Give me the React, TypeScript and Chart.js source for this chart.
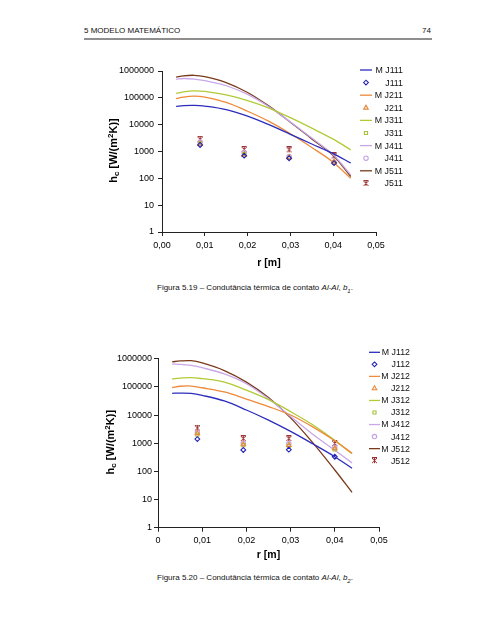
import React, { useEffect, useRef } from 'react';
import { Chart, registerables } from 'chart.js';
import { drawPoint } from 'chart.js/helpers';

Chart.register(...registerables);

const FONT = "'Liberation Sans', Arial, sans-serif";

// ---------- Figure 5.19 (b1) ----------
const R_MODEL_1 = [0.0033, 0.005, 0.0075, 0.01, 0.015, 0.02, 0.025, 0.03, 0.035, 0.04, 0.0441];
const M_J111 = [47900, 51300, 52500, 49000, 36300, 20900, 10000, 4370, 1900, 830, 372];
const M_J211 = [93300, 107000, 115000, 107000, 67600, 31600, 13200, 4570, 1410, 398, 100];
const M_J311 = [144500, 166000, 182000, 174000, 129000, 79400, 41700, 18200, 7400, 2880, 1150];
const M_J411 = [490000, 525000, 500000, 436000, 282000, 135000, 46800, 12600, 3160, 760, 135];
const M_J511 = [589000, 661000, 692000, 617000, 372000, 158000, 49000, 12300, 2950, 708, 117];

const R_EXP_1 = [0.0089, 0.0192, 0.0297, 0.0402];
const J111 = [1750, 700, 560, 370];
const J211 = [1900, 750, 600, 420];
const J311 = [2000, 800, 580, 380];
const J411 = [2200, 900, 650, 400];
const J511 = [2850, 1200, 1150, 680];

// ---------- Figure 5.20 (b2) ----------
const R_MODEL_2 = [0.0032, 0.005, 0.0075, 0.01, 0.015, 0.02, 0.025, 0.03, 0.035, 0.04, 0.0439];
const M_J112 = [58900, 60300, 58900, 50100, 31600, 15100, 6600, 2630, 955, 331, 129];
const M_J212 = [95000, 105000, 107000, 93000, 66000, 37000, 20000, 10000, 3800, 1230, 440];
const M_J312 = [190000, 204000, 214000, 195000, 148000, 76000, 35000, 13200, 4500, 1260, 420];
const M_J412 = [646000, 631000, 575000, 479000, 288000, 129000, 38000, 8900, 2090, 562, 200];
const M_J512 = [776000, 832000, 851000, 708000, 380000, 148000, 41700, 7940, 1050, 112, 18];

const R_EXP_2 = [0.0089, 0.0193, 0.0296, 0.040];
const J112 = [1400, 575, 590, 330];
const J212 = [2250, 900, 850, 650];
const J312 = [2000, 850, 800, 600];
const J412 = [2400, 1000, 950, 720];
const J512 = [3450, 1450, 1450, 980];

// ---------- axes ----------
const Y_TICKS = [1, 10, 100, 1000, 10000, 100000, 1000000];
const X_TICKS = [0, 0.01, 0.02, 0.03, 0.04, 0.05];
const X_LABELS_1 = ['0,00', '0,01', '0,02', '0,03', '0,04', '0,05'];
const X_LABELS_2 = ['0', '0,01', '0,02', '0,03', '0,04', '0,05'];

const COLORS = ['#2c2cbc', '#ee8a3c', '#b2ca36', '#c8a8e8', '#7a3a1c'];
const MARKER_COLORS = ['#2424b4', '#e8883a', '#a6c23c', '#c4a2e4', '#9c3030'];
const MARKER_SIZES = [2.4, 2.6, 2.2, 2.2, 0];

function makeStar(color: string): HTMLCanvasElement {
  const c = document.createElement('canvas');
  c.width = 7;
  c.height = 7;
  const g = c.getContext('2d')!;
  g.strokeStyle = color;
  g.lineWidth = 1;
  g.beginPath();
  g.moveTo(1, 1); g.lineTo(6, 6);
  g.moveTo(6, 1); g.lineTo(1, 6);
  g.moveTo(1, 0.5); g.lineTo(6, 0.5);
  g.moveTo(3.5, 1); g.lineTo(3.5, 6);
  g.stroke();
  return c;
}

function pts(xs: number[], ys: number[]) {
  return xs.map((x, i) => ({ x, y: ys[i] }));
}

type LegendOpts = { dy0: number; dy: number; l0: number; l1: number; tr: number; size: number };
type TitleOpts = { yx: number; yy: number; xy: number };

const pagePlugin = {
  id: 'pageDecor',
  afterDraw(chart: any, _args: any, opts: any) {
    const { ctx, chartArea } = chart;
    const lg: LegendOpts = opts.legend;
    const tt: TitleOpts = opts.titles;
    ctx.save();
    // legend
    chart.data.datasets.forEach((ds: any, i: number) => {
      const y = chartArea.top + lg.dy0 + i * lg.dy;
      const x0 = chartArea.right + lg.l0;
      const x1 = chartArea.right + lg.l1;
      if (ds.showLine) {
        ctx.strokeStyle = ds.borderColor;
        ctx.lineWidth = 1.3;
        ctx.beginPath();
        ctx.moveTo(x0, y);
        ctx.lineTo(x1, y);
        ctx.stroke();
      } else {
        ctx.strokeStyle = ds.pointBorderColor;
        ctx.fillStyle = 'rgba(0,0,0,0)';
        ctx.lineWidth = ds.pointBorderWidth;
        drawPoint(ctx, { pointStyle: ds.pointStyle, radius: ds.pointRadius, rotation: 0, borderWidth: ds.pointBorderWidth } as any, (x0 + x1) / 2, y);
      }
      ctx.fillStyle = '#111';
      ctx.font = `${lg.size}px ${FONT}`;
      ctx.textAlign = 'right';
      ctx.textBaseline = 'middle';
      ctx.fillText(ds.label, chartArea.right + lg.tr, y + 0.5);
    });
    // y title with sub/superscript
    const cx = chartArea.left + tt.yx;
    const cy = (chartArea.top + chartArea.bottom) / 2 + tt.yy;
    const big = `bold 11px ${FONT}`;
    const small = `bold 8px ${FONT}`;
    const parts = [
      { t: 'h', f: big, d: 0 },
      { t: 'c', f: small, d: 2 },
      { t: ' [W/(m', f: big, d: 0 },
      { t: '2', f: small, d: -4.5 },
      { t: 'K)]', f: big, d: 0 },
    ];
    let total = 0;
    parts.forEach((p) => { ctx.font = p.f; total += ctx.measureText(p.t).width; });
    ctx.translate(cx, cy);
    ctx.rotate(-Math.PI / 2);
    ctx.fillStyle = '#000';
    ctx.textAlign = 'left';
    ctx.textBaseline = 'alphabetic';
    let px = -total / 2;
    parts.forEach((p) => {
      ctx.font = p.f;
      ctx.fillText(p.t, px, 4 + p.d);
      px += ctx.measureText(p.t).width;
    });
    ctx.setTransform(1, 0, 0, 1, 0, 0);
    // x title
    ctx.font = `bold 10.5px ${FONT}`;
    ctx.textAlign = 'center';
    ctx.textBaseline = 'middle';
    ctx.fillStyle = '#000';
    ctx.fillText('r [m]', (chartArea.left + chartArea.right) / 2, chartArea.bottom + tt.xy);
    ctx.restore();
  },
};

type Spec = {
  rModel: number[];
  models: number[][];
  modelNames: string[];
  rExp: number[];
  exps: number[][];
  expNames: string[];
  xLabels: string[];
  axisW: number;
  axisH: number;
  padTop: number;
  padRight: number;
  yLabelPad: number;
  xLabelPad: number;
  legend: LegendOpts;
  titles: TitleOpts;
};

function buildConfig(s: Spec): any {
  const star = makeStar(MARKER_COLORS[4]);
  const styles: any[] = ['rectRot', 'triangle', 'rect', 'circle', star];
  const datasets: any[] = [];
  s.models.forEach((m, i) => {
    datasets.push({
      label: s.modelNames[i],
      data: pts(s.rModel, m),
      showLine: true,
      borderColor: COLORS[i],
      backgroundColor: COLORS[i],
      borderWidth: 1.3,
      pointRadius: 0,
      pointHoverRadius: 0,
      tension: 0.35,
      fill: false,
    });
    datasets.push({
      label: s.expNames[i],
      data: pts(s.rExp, s.exps[i]),
      showLine: false,
      pointStyle: styles[i],
      pointRadius: i === 4 ? 3.5 : MARKER_SIZES[i],
      pointBorderColor: MARKER_COLORS[i],
      pointBackgroundColor: 'rgba(0,0,0,0)',
      borderColor: MARKER_COLORS[i],
      pointBorderWidth: 1.1,
    });
  });
  const tickFont = { family: FONT, size: 9 };
  return {
    type: 'scatter',
    data: { datasets },
    plugins: [pagePlugin],
    options: {
      animation: false,
      responsive: true,
      maintainAspectRatio: false,
      events: [],
      layout: { padding: { left: 0, top: s.padTop, right: s.padRight, bottom: 0 } },
      plugins: {
        legend: { display: false },
        tooltip: { enabled: false },
        pageDecor: { legend: s.legend, titles: s.titles },
      },
      scales: {
        x: {
          type: 'linear',
          min: 0,
          max: 0.05,
          afterBuildTicks: (sc: any) => { sc.ticks = X_TICKS.map((v) => ({ value: v })); },
          afterFit: (sc: any) => { sc.height = s.axisH; },
          ticks: {
            callback: (_v: any, i: number) => s.xLabels[i],
            font: tickFont,
            color: '#000',
            padding: s.xLabelPad,
            maxRotation: 0,
            autoSkip: false,
          },
          grid: { display: true, drawOnChartArea: false, drawTicks: true, tickLength: 4, color: '#222' },
          border: { display: true, color: '#222', width: 1 },
        },
        y: {
          type: 'logarithmic',
          min: 1,
          max: 1000000,
          afterBuildTicks: (sc: any) => { sc.ticks = Y_TICKS.map((v) => ({ value: v })); },
          afterFit: (sc: any) => { sc.width = s.axisW; },
          ticks: {
            callback: (v: any) => String(v),
            font: tickFont,
            color: '#000',
            padding: s.yLabelPad,
            autoSkip: false,
          },
          grid: { display: true, drawOnChartArea: false, drawTicks: true, tickLength: 4, color: '#222' },
          border: { display: true, color: '#222', width: 1 },
        },
      },
    },
  };
}

const SPEC_1: Spec = {
  rModel: R_MODEL_1,
  models: [M_J111, M_J211, M_J311, M_J411, M_J511],
  modelNames: ['M J111', 'M J211', 'M J311', 'M J411', 'M J511'],
  rExp: R_EXP_1,
  exps: [J111, J211, J311, J411, J511],
  expNames: ['J111', 'J211', 'J311', 'J411', 'J511'],
  xLabels: X_LABELS_1,
  axisW: 78,
  axisH: 43,
  padTop: 15,
  padRight: 48,
  yLabelPad: 4,
  xLabelPad: 4,
  legend: { dy0: -1, dy: 12.6, l0: -16, l1: -4, tr: 27, size: 8.8 },
  titles: { yx: -49, yy: -1, xy: 31 },
};

const SPEC_2: Spec = {
  rModel: R_MODEL_2,
  models: [M_J112, M_J212, M_J312, M_J412, M_J512],
  modelNames: ['M J112', 'M J212', 'M J312', 'M J412', 'M J512'],
  rExp: R_EXP_2,
  exps: [J112, J212, J312, J412, J512],
  expNames: ['J112', 'J212', 'J312', 'J412', 'J512'],
  xLabels: X_LABELS_2,
  axisW: 74,
  axisH: 38.3,
  padTop: 18.7,
  padRight: 45,
  yLabelPad: 2,
  xLabelPad: 3.5,
  legend: { dy0: -6.4, dy: 12.04, l0: -10, l1: 1, tr: 31, size: 8.8 },
  titles: { yx: -48, yy: -1, xy: 27.5 },
};

export default function App() {
  const ref1 = useRef<HTMLCanvasElement>(null);
  const ref2 = useRef<HTMLCanvasElement>(null);

  useEffect(() => {
    const c1 = new Chart(ref1.current!, buildConfig(SPEC_1));
    const c2 = new Chart(ref2.current!, buildConfig(SPEC_2));
    return () => {
      c1.destroy();
      c2.destroy();
    };
  }, []);

  const small: React.CSSProperties = { position: 'absolute', fontFamily: FONT, fontSize: 8, lineHeight: '10px', color: '#111', whiteSpace: 'nowrap' };

  return (
    <div style={{ position: 'absolute', left: 0, top: 0, width: 495, height: 640, background: '#fff', overflow: 'hidden' }}>
      <div style={{ ...small, left: 84, top: 26 }}>5 MODELO MATEMÁTICO</div>
      <div style={{ ...small, right: 64, top: 26 }}>74</div>
      <div style={{ position: 'absolute', left: 84, top: 38, width: 348, height: 2, background: '#8e8e8e' }} />

      <div style={{ position: 'absolute', left: 84, top: 56, width: 340, height: 219 }}>
        <canvas ref={ref1} />
      </div>
      <div style={{ ...small, left: 157, top: 283 }}>
        Figura 5.19 – Condutância térmica de contato <i>Al-Al</i>, <i>b<sub style={{ fontSize: 6 }}>1</sub></i>.
      </div>

      <div style={{ position: 'absolute', left: 84, top: 340, width: 340, height: 226 }}>
        <canvas ref={ref2} />
      </div>
      <div style={{ ...small, left: 157, top: 573 }}>
        Figura 5.20 – Condutância térmica de contato <i>Al-Al</i>, <i>b<sub style={{ fontSize: 6 }}>2</sub></i>.
      </div>
    </div>
  );
}
